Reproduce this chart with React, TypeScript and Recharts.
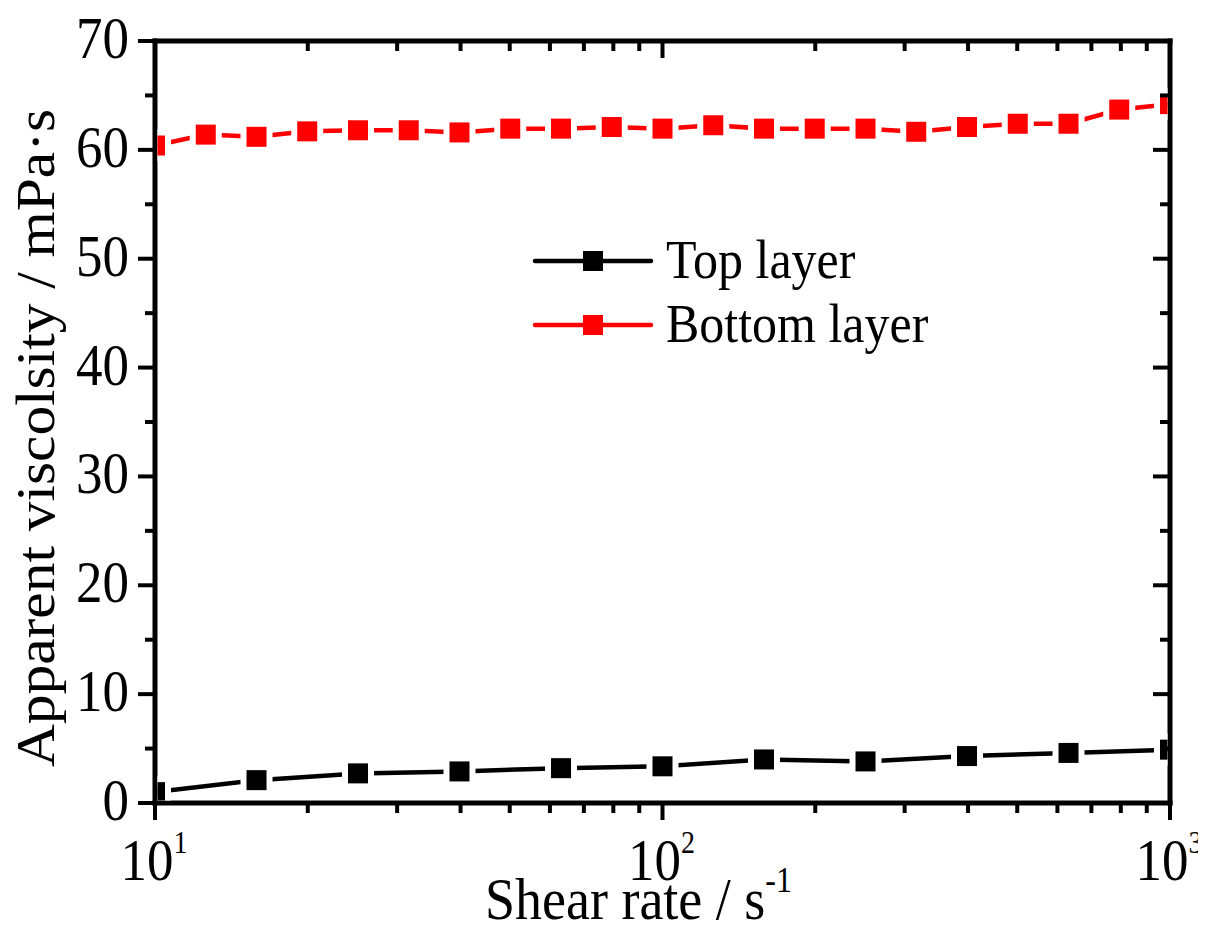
import React from 'react';
import { LineChart, Line, XAxis, YAxis, Legend } from 'recharts';

const FONT = '"Liberation Serif", "Times New Roman", serif';

// Data
const SERIES_NAMES = ['Top layer', 'Bottom layer'];
const SERIES_COLORS = ['#000000', '#ff0000'];

const X_TOP = [10, 15.85, 25.12, 39.81, 63.1, 100, 158.5, 251.2, 398.1, 631, 1000];
const Y_TOP = [1.0, 2.1, 2.72, 2.9, 3.2, 3.37, 4.0, 3.82, 4.31, 4.6, 4.9];

const X_BOTTOM = [10, 12.59, 15.85, 19.95, 25.12, 31.62, 39.81, 50.12, 63.1, 79.43, 100, 125.9, 158.5, 199.5, 251.2, 316.2, 398.1, 501.2, 631, 794.3, 1000];
const Y_BOTTOM = [60.4, 61.4, 61.2, 61.7, 61.8, 61.8, 61.6, 61.95, 61.95, 62.1, 61.95, 62.26, 61.95, 61.95, 61.95, 61.66, 62.1, 62.4, 62.4, 63.7, 64.2];

const X_TICKS = [10, 20, 30, 40, 50, 60, 70, 80, 90, 100, 200, 300, 400, 500, 600, 700, 800, 900, 1000];
const X_MAJOR = [10, 100, 1000];
const X_EXP = ['1', '2', '3'];

const Y_TICKS = [0, 5, 10, 15, 20, 25, 30, 35, 40, 45, 50, 55, 60, 65, 70];
const Y_MAJOR = [0, 10, 20, 30, 40, 50, 60, 70];
const Y_LABELS = ['0', '10', '20', '30', '40', '50', '60', '70'];

const X_TITLE = 'Shear rate / s';
const X_TITLE_SUP = '-1';
const Y_TITLE = 'Apparent viscolsity / mPa·s';

const topData = X_TOP.map((x, i) => ({ x, y: Y_TOP[i] }));
const bottomData = X_BOTTOM.map((x, i) => ({ x, y: Y_BOTTOM[i] }));

// layout
const W = 1198;
const H = 920;
const PLOT_L = 147;
const PLOT_R = 1162;
const PLOT_T = 33;
const PLOT_B = 795;
const MAJOR_LEN = 17;
const MINOR_LEN = 10;
const TICK_W = 4;
const AXIS_W = 5;

const axisLineStyle = { stroke: '#000', strokeWidth: AXIS_W, strokeLinecap: 'square' as const };

const BottomTick = (props: any) => {
  const { x, y, payload } = props;
  const idx = X_MAJOR.indexOf(payload.value);
  const major = idx >= 0;
  return (
    <g>
      <line x1={x} x2={x} y1={y} y2={y + (major ? MAJOR_LEN : MINOR_LEN)} stroke="#000" strokeWidth={TICK_W} />
      {major && (
        <text transform={`translate(${x - 1},${y + 77}) scale(1,1.1)`} x={0} y={0} textAnchor="middle" fontSize={53} fontFamily={FONT} fill="#000">
          <tspan>10</tspan>
          <tspan dy={-25} fontSize={28}>{X_EXP[idx]}</tspan>
        </text>
      )}
    </g>
  );
};

const TopTick = (props: any) => {
  const { x, y, payload } = props;
  const major = X_MAJOR.indexOf(payload.value) >= 0;
  return <line x1={x} x2={x} y1={y} y2={y + (major ? MAJOR_LEN : MINOR_LEN)} stroke="#000" strokeWidth={TICK_W} />;
};

const LeftTick = (props: any) => {
  const { x, y, payload } = props;
  const idx = Y_MAJOR.indexOf(payload.value);
  const major = idx >= 0;
  return (
    <g>
      <line x1={x - (major ? MAJOR_LEN : MINOR_LEN)} x2={x} y1={y} y2={y} stroke="#000" strokeWidth={TICK_W} />
      {major && (
        <text transform={`translate(${x - 26},${y + 17}) scale(1,1.1)`} x={0} y={0} textAnchor="end" fontSize={53} fontFamily={FONT} fill="#000">
          {Y_LABELS[idx]}
        </text>
      )}
    </g>
  );
};

const RightTick = (props: any) => {
  const { x, y, payload } = props;
  const major = Y_MAJOR.indexOf(payload.value) >= 0;
  return <line x1={x - (major ? MAJOR_LEN : MINOR_LEN)} x2={x} y1={y} y2={y} stroke="#000" strokeWidth={TICK_W} />;
};

const XTitle = () => (
  <text transform={`translate(477,911) scale(1,1.1)`} x={0} y={0} textAnchor="start" fontSize={54} fontFamily={FONT} fill="#000">
    <tspan>{X_TITLE}</tspan>
    <tspan dy={-25} fontSize={32}>{X_TITLE_SUP}</tspan>
  </text>
);

const YTitle = () => (
  <text transform={`translate(46,430) rotate(-90) scale(1.1,1)`} x={0} y={0} textAnchor="middle" fontSize={54} fontFamily={FONT} fill="#000">
    {Y_TITLE}
  </text>
);

const makeDot = (color: string, id: string) => (p: any) => {
  const { cx, cy, index } = p;
  const clipId = `clip-${id}-${index}`;
  return (
    <g key={`dot-${id}-${index}`}>
      <defs>
        <clipPath id={clipId}>
          <rect x={PLOT_L + AXIS_W / 2} y={PLOT_T + AXIS_W / 2} width={PLOT_R - PLOT_L - AXIS_W} height={PLOT_B - PLOT_T - AXIS_W} />
        </clipPath>
      </defs>
      <g clipPath={`url(#${clipId})`}>
        <rect x={cx - 16} y={cy - 16} width={32} height={32} fill="#fff" />
        <rect x={cx - 10} y={cy - 10} width={20} height={20} fill={color} />
      </g>
    </g>
  );
};

const LegendContent = (props: any) => {
  const payload = [...(props.payload || [])].sort(
    (a: any, b: any) => SERIES_NAMES.indexOf(a.value) - SERIES_NAMES.indexOf(b.value)
  );
  return (
    <svg width={430} height={130} style={{ display: 'block', overflow: 'visible' }}>
      {payload.map((e: any, i: number) => {
        const cy = 32 + 64 * i;
        return (
          <g key={`leg-${i}`}>
            <line x1={2} x2={118} y1={cy} y2={cy} stroke={e.color} strokeWidth={4.5} strokeLinecap="round" />
            <rect x={50} y={cy - 10} width={20} height={20} fill={e.color} />
            <text transform={`translate(133,${cy + 17}) scale(1,1.1)`} x={0} y={0} fontSize={50} fontFamily={FONT} fill="#000">
              {e.value}
            </text>
          </g>
        );
      })}
    </svg>
  );
};

export default function App() {
  return (
    <div style={{ width: W, height: H, marginBottom: -8, overflow: 'hidden' }}>
      <LineChart width={W} height={H} margin={{ top: 0, right: 0, bottom: 0, left: 0 }}>
        <XAxis
          xAxisId={0}
          dataKey="x"
          type="number"
          scale="log"
          domain={[10, 1000]}
          allowDataOverflow
          ticks={X_TICKS}
          interval={0}
          tickLine={false}
          tickSize={0}
          tickMargin={0}
          tick={(p: any) => <BottomTick {...p} />}
          axisLine={axisLineStyle}
          height={H - PLOT_B}
          label={<XTitle />}
        />
        <XAxis
          xAxisId="top"
          orientation="top"
          dataKey="x"
          type="number"
          scale="log"
          domain={[10, 1000]}
          allowDataOverflow
          ticks={X_TICKS}
          interval={0}
          tickLine={false}
          tickSize={0}
          tickMargin={0}
          tick={(p: any) => <TopTick {...p} />}
          axisLine={axisLineStyle}
          height={PLOT_T}
        />
        <YAxis
          yAxisId={0}
          type="number"
          domain={[0, 70]}
          allowDataOverflow
          ticks={Y_TICKS}
          interval={0}
          tickLine={false}
          tickSize={0}
          tickMargin={0}
          tick={(p: any) => <LeftTick {...p} />}
          axisLine={axisLineStyle}
          width={PLOT_L}
          label={<YTitle />}
        />
        <YAxis
          yAxisId="right"
          orientation="right"
          type="number"
          domain={[0, 70]}
          allowDataOverflow
          ticks={Y_TICKS}
          interval={0}
          tickLine={false}
          tickSize={0}
          tickMargin={0}
          tick={(p: any) => <RightTick {...p} />}
          axisLine={axisLineStyle}
          width={W - PLOT_R}
        />
        <Line
          data={topData}
          dataKey="y"
          name={SERIES_NAMES[0]}
          type="linear"
          stroke={SERIES_COLORS[0]}
          strokeWidth={4.5}
          strokeLinecap="round"
          dot={makeDot(SERIES_COLORS[0], 'top')}
          activeDot={false}
          isAnimationActive={false}
        />
        <Line
          data={bottomData}
          dataKey="y"
          name={SERIES_NAMES[1]}
          type="linear"
          stroke={SERIES_COLORS[1]}
          strokeWidth={4.5}
          strokeLinecap="round"
          dot={makeDot(SERIES_COLORS[1], 'bottom')}
          activeDot={false}
          isAnimationActive={false}
        />
        <Legend
          layout="vertical"
          align="center"
          verticalAlign="middle"
          content={(p: any) => <LegendContent {...p} />}
          wrapperStyle={{ position: 'absolute', left: 525, top: 221, width: 430, height: 130 }}
        />
      </LineChart>
    </div>
  );
}
